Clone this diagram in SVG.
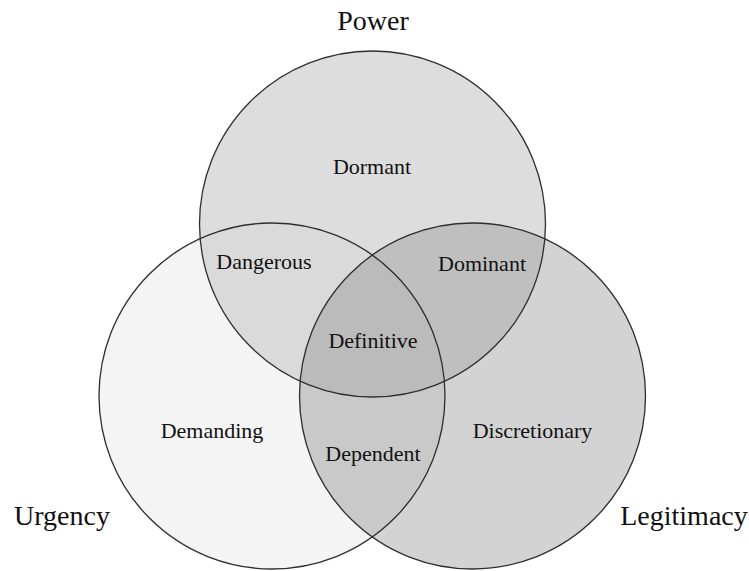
<svg xmlns="http://www.w3.org/2000/svg" width="749" height="571" viewBox="0 0 749 571">
<style>
.ring{fill:none;stroke:#2e2e2e;stroke-width:1.3}
.lbl{font-family:"Liberation Serif","Times New Roman",serif;font-size:22px;fill:#111;text-anchor:middle}
.ttl{font-family:"Liberation Serif","Times New Roman",serif;font-size:28px;fill:#111;text-anchor:middle}
</style>
<defs>
<clipPath id="clipU"><circle cx="272" cy="396" r="173"/></clipPath>
<clipPath id="clipL"><circle cx="472.5" cy="396" r="173"/></clipPath>
<clipPath id="clipP"><circle cx="372.5" cy="224" r="173"/></clipPath>
</defs>
<rect width="749" height="571" fill="#ffffff"/>
<g id="fills">
<circle cx="272" cy="396" r="173" fill="#f4f4f4"/>
<circle cx="472.5" cy="396" r="173" fill="#d3d3d3"/>
<circle cx="472.5" cy="396" r="173" fill="#c9c9c9" clip-path="url(#clipU)"/>
<circle cx="372.5" cy="224" r="173" fill="#dddddd"/>
<circle cx="372.5" cy="224" r="173" fill="#dadada" clip-path="url(#clipU)"/>
<circle cx="372.5" cy="224" r="173" fill="#bfbfbf" clip-path="url(#clipL)"/>
<g clip-path="url(#clipU)"><circle cx="372.5" cy="224" r="173" fill="#bbbbbb" clip-path="url(#clipL)"/></g>
</g>
<g id="urgency">
<circle class="ring" cx="272" cy="396" r="173"/>
<text class="ttl" x="62" y="525">Urgency</text>
</g>
<g id="legitimacy">
<circle class="ring" cx="472.5" cy="396" r="173"/>
<text class="ttl" x="684" y="525">Legitimacy</text>
</g>
<g id="power">
<circle class="ring" cx="372.5" cy="224" r="173"/>
<text class="ttl" x="373" y="30">Power</text>
</g>
<g id="dormant"><text class="lbl" x="372" y="174">Dormant</text></g>
<g id="dangerous"><text class="lbl" x="264" y="269">Dangerous</text></g>
<g id="dominant"><text class="lbl" x="482" y="271">Dominant</text></g>
<g id="definitive"><text class="lbl" x="373" y="348">Definitive</text></g>
<g id="demanding"><text class="lbl" x="212" y="438">Demanding</text></g>
<g id="discretionary"><text class="lbl" x="532.5" y="438">Discretionary</text></g>
<g id="dependent"><text class="lbl" x="373" y="461">Dependent</text></g>
<g id="connectors"></g>
</svg>
